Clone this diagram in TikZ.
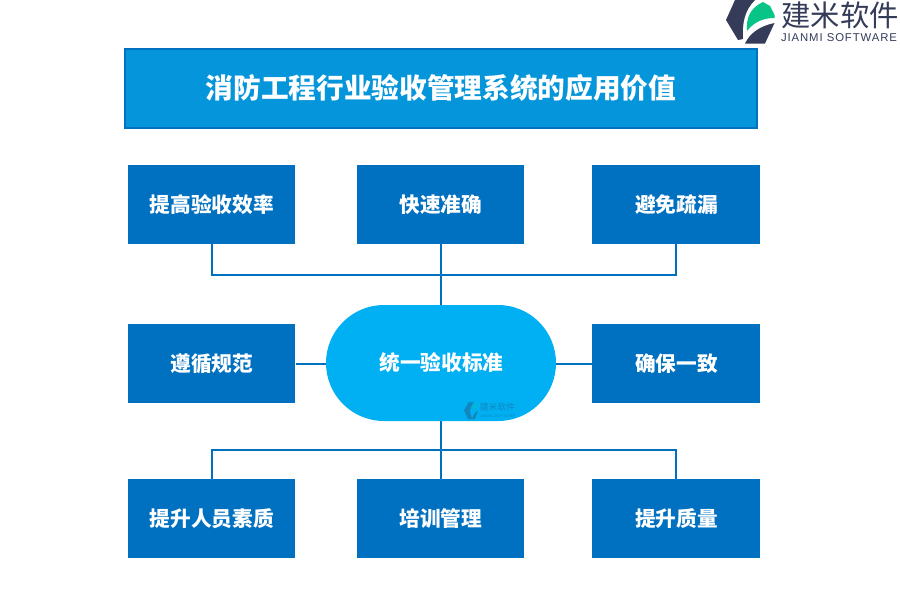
\documentclass[tikz,border=0pt]{standalone}
\usepackage{fontspec}
\setmainfont{Liberation Sans}
\newfontfamily\cjk{Noto Sans CJK SC}
\newfontfamily\cjkreg{Noto Sans CJK SC}
\definecolor{boxblue}{HTML}{0070C0}
\definecolor{titleblue}{HTML}{0595DB}
\definecolor{pillblue}{HTML}{00B0F3}
\definecolor{logodark}{HTML}{343C5A}
\definecolor{logogreen}{HTML}{06C586}
\tikzset{
  x=0.75pt,y=-0.75pt,
  item/.style={fill=boxblue,minimum width=125.6pt,minimum height=59.25pt,inner sep=0pt,text=white,font=\cjk\fontsize{15.5}{18}\selectfont\bfseries,execute at begin node={\hspace*{0.7pt}}},
  link/.style={draw=boxblue,line width=1.5pt},
}
\begin{document}
\begin{tikzpicture}
\useasboundingbox (0,0) rectangle (900,600);
\fill[white] (0,0) rectangle (900,600);
% title
\node[draw=boxblue,fill=titleblue,line width=1.5pt,minimum width=474.5pt,minimum height=59.2pt,inner sep=0pt,text=white,font=\cjk\fontsize{20.75}{24}\selectfont\bfseries] (title) at (441,88.2) {\raisebox{1pt}{消防工程行业验收管理系统的应用价值}};
% boxes
\node[item] (a1) at (211.5,204.5) {提高验收效率};
\node[item] (a2) at (440.5,204.5) {快速准确};
\node[item] (a3) at (676,204.5) {避免疏漏};
\node[item] (b1) at (211.5,363.5) {遵循规范};
\node[item] (b3) at (676,363.5) {确保一致};
\node[item] (c1) at (211.5,518.5) {提升人员素质};
\node[item] (c2) at (440.5,518.5) {培训管理};
\node[item] (c3) at (676,518.5) {提升质量};
\coordinate (jt) at (441,275);
\coordinate (jb) at (441,450);
% connectors
\draw[link] (a1.south) |- (jt);
\draw[link] (a3.south) |- (jt);
\draw[link] (441,244) -- (441,305);
\draw[link] (441,421) -- (441,479);
\draw[link] (c1.north) |- (jb);
\draw[link] (c3.north) |- (jb);
\draw[link] (b1.east) -- (330,363.5);
\draw[link] (b3.west) -- (552,363.5);
% centre
\node[fill=pillblue,rounded corners=43.5pt,minimum width=172.5pt,minimum height=87pt,inner sep=0pt,text=white,font=\cjk\fontsize{15.5}{18}\selectfont\bfseries,execute at begin node={\hspace*{0.7pt}}] (hub) at (441,363) {统一验收标准};
% watermark
\begin{scope}[opacity=.5]
\fill[logodark!70!pillblue] (469,402) -- (464,410) -- (468,419) -- (472,419) -- (470,412) .. controls (470,408) and (472,404) .. (474,402) -- cycle;
\fill[logogreen!40!pillblue] (471,412) .. controls (471,407) and (473,403) .. (476,402) -- (478,404) -- (478,408) .. controls (475,408) and (473,410) .. (471,412) -- cycle;
\fill[logodark!70!pillblue] (472,419) .. controls (473,415) and (475,412) .. (478,411) -- (475,419) -- cycle;
\node[text=logodark!70!pillblue,inner sep=0pt,font=\cjkreg\fontsize{6.6}{8}\selectfont] (wm) at (497.5,407.5) {建米软件};
\node[text=logodark!70!pillblue,inner sep=0pt,font=\fontsize{2.6}{3}\selectfont] (wm2) at (497.5,416.5) {\addfontfeature{LetterSpace=8}JIANMI SOFTWARE};
\end{scope}
% logo
\fill[logodark] (735,0) -- (726,20) -- (738,40) -- (743,39) .. controls (742,22) and (745,10) .. (755,0) -- cycle;
\fill[logogreen] (747,31) .. controls (746,18) and (750,8) .. (763,2) -- (770,6) -- (774.5,15) -- (774.5,18) .. controls (763,18) and (754,22) .. (747,31) -- cycle;
\fill[logodark] (745,43.5) .. controls (750,33) and (760,26) .. (774.5,23) -- (765,43.5) -- cycle;
\node[text=logodark,inner sep=0pt,font=\cjkreg\fontsize{22}{24}\selectfont] (brand) at (840,15) {建米软件};
\node[text=logodark,inner sep=0pt,font=\fontsize{8.5}{10}\selectfont,anchor=center] (brand2) at (839,38) {\addfontfeature{LetterSpace=8}JIANMI SOFTWARE};
\end{tikzpicture}
\end{document}
